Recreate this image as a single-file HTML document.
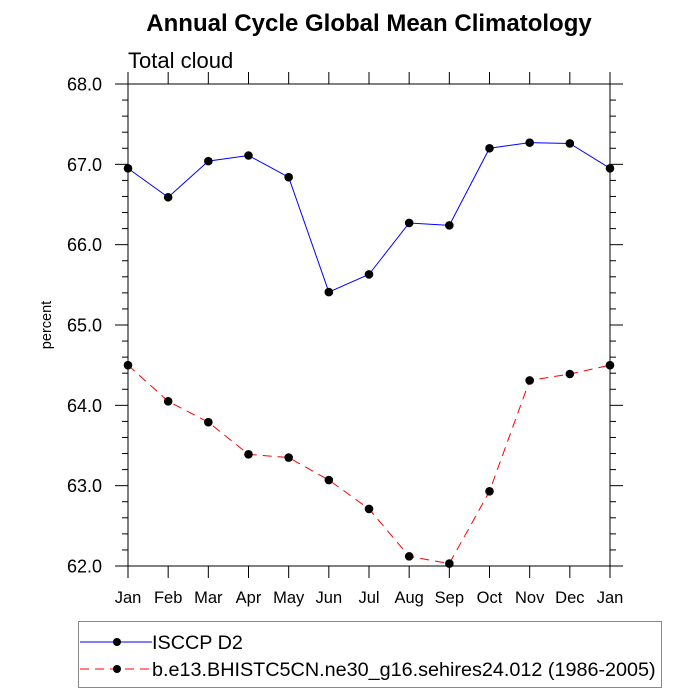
<!DOCTYPE html>
<html><head><meta charset="utf-8"><style>body{margin:0;background:#fff}svg{display:block;font-family:"Liberation Sans",sans-serif}</style></head>
<body>
<svg id="chart" width="700" height="700">
<text x="369" y="31" text-anchor="middle" font-size="24" font-weight="bold">Annual Cycle Global Mean Climatology</text>
<text x="128" y="68" font-size="22">Total cloud</text>
<text transform="translate(51,325) rotate(-90)" text-anchor="middle" font-size="14.5">percent</text>
<g id="axes"></g><g id="series"></g>
<g>
<rect x="78.5" y="621.5" width="583" height="66" fill="none" stroke="#888"/>
<g><line x1="80" y1="642" x2="152" y2="642" stroke="#0000ff" stroke-width="1"/><circle cx="117" cy="642" r="4" fill="#000"/><text x="152" y="649" font-size="19.8">ISCCP D2</text></g>
<g><line x1="80" y1="669" x2="152" y2="669" stroke="#ff0000" stroke-dasharray="9,6"/><circle cx="117" cy="669" r="4" fill="#000"/><text x="152" y="676" font-size="19.8">b.e13.BHISTC5CN.ne30_g16.sehires24.012 (1986-2005)</text></g>
</g>
</svg>
<script>
const months=["Jan","Feb","Mar","Apr","May","Jun","Jul","Aug","Sep","Oct","Nov","Dec","Jan"];
const isccp=[66.95,66.59,67.04,67.11,66.84,65.41,65.63,66.27,66.24,67.20,67.27,67.26,66.95];
const model=[64.50,64.05,63.79,63.39,63.35,63.07,62.71,62.12,62.03,62.93,64.31,64.39,64.50];
const yTicks=[62,63,64,65,66,67,68];
const NS="http://www.w3.org/2000/svg";
const X0=128,X1=610,Y0=566,Y1=84,YMIN=62,YMAX=68;
const xs=i=>X0+(X1-X0)*i/(months.length-1);
const ys=v=>Y0-(Y0-Y1)*(v-YMIN)/(YMAX-YMIN);
function mk(t,a,p){const e=document.createElementNS(NS,t);for(const k in a)e.setAttribute(k,a[k]);p.appendChild(e);return e;}
const ax=document.getElementById('axes');
const frame=mk('rect',{x:X0,y:Y1,width:X1-X0,height:Y0-Y1,fill:'none',stroke:'#000','stroke-width':1},ax);


months.forEach((m,i)=>{const x=xs(i);
mk('line',{x1:x,y1:Y0,x2:x,y2:Y0+12,stroke:'#000'},ax);
mk('line',{x1:x,y1:Y1,x2:x,y2:Y1-12,stroke:'#000'},ax);
const t=mk('text',{x:x,y:Y0+37,'text-anchor':'middle','font-size':16.5},ax);t.textContent=m;

});
for(let v=YMIN;v<=YMAX+1e-9;v+=0.2){const y=ys(v);const maj=Math.abs(v-Math.round(v))<1e-6;const L=maj?13:6;
mk('line',{x1:X0-L,y1:y,x2:X0,y2:y,stroke:'#000'},ax);mk('line',{x1:X1,y1:y,x2:X1+L,y2:y,stroke:'#000'},ax);}
yTicks.forEach(v=>{const t=mk('text',{x:X0-26,y:ys(v)+6.5,'text-anchor':'end','font-size':18},ax);t.textContent=v.toFixed(1);

});
const sg=document.getElementById('series');
function draw(vals,color,dash,name){const g=mk('g',{},sg);


const a={points:vals.map((v,i)=>xs(i)+','+ys(v)).join(' '),fill:'none',stroke:color,'stroke-width':1};if(dash)a['stroke-dasharray']=dash;mk('polyline',a,g);
vals.forEach((v,i)=>{const c=mk('circle',{cx:xs(i),cy:ys(v),r:4.3,fill:'#000'},g);

});}
draw(isccp,'#0000ff',null,'series-isccp');
draw(model,'#ff0000','9,6','series-model');
</script>
</body></html>
